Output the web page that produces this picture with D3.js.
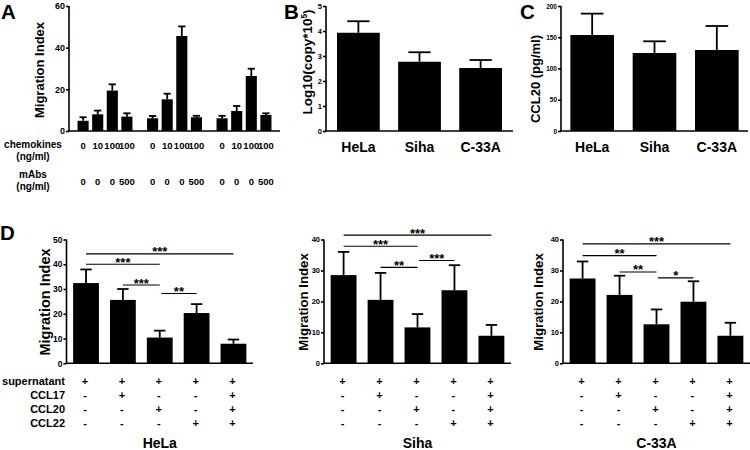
<!DOCTYPE html>
<html><head><meta charset="utf-8">
<script src="https://cdn.jsdelivr.net/npm/d3@7"></script>
<style>
body{margin:0;background:#fff;}
svg{display:block;font-family:"Liberation Sans",Arial,Helvetica,sans-serif;font-weight:bold;}
</style></head>
<body><svg id="c" width="750" height="450"></svg>
<script>
// ---------- DATA ----------
// Panel A
const aGroups = ["g1","g2","g3"];
const aBars = ["b1","b2","b3","b4"];
const aChemokines = ["0","10","100","100"];
const aMabs = ["0","0","0","500"];
const aValues = [[4.9,8.0,19.4,6.9],[6.1,15.2,45.6,6.6],[6.1,9.6,26.4,7.7]];
const aErrors = [[6.6,9.8,22.4,8.5],[7.2,17.9,50.2,7.3],[7.3,12.0,29.9,8.5]];
const aTicks = [0,20,40,60];
// Panel B
const cells = ["HeLa","Siha","C-33A"];
const bValues = [3.93,2.77,2.52];
const bErrors = [4.39,3.15,2.84];
const bTicks = [0,1,2,3,4,5];
// Panel C
const cValues = [153.6,124.8,129.6];
const cErrors = [187.8,143.5,168.0];
const cTicks = [0,50,100,150,200];
// Panel D
const dConditions = ["c1","c2","c3","c4","c5"];
const rowNames = ["supernatant","CCL17","CCL20","CCL22"];
const rowSigns = [["+","+","+","+","+"],["-","+","-","-","+"],["-","-","+","-","+"],["-","-","-","+","+"]];
const dHeLa = [32.4,25.6,10.4,20.3,7.9];
const dHeLaErr = [37.9,30.0,13.2,23.9,9.6];
const dSiha = [28.5,20.5,11.6,23.6,8.9];
const dSihaErr = [36.0,29.2,15.9,31.7,12.4];
const dC33A = [27.4,22.1,12.6,19.9,8.9];
const dC33AErr = [32.9,28.3,17.4,26.5,13.1];
const dHeLaTicks = [0,10,20,30,40,50];
const dSmallTicks = [0,10,20,30,40];
const sigHeLa = [[0,4,44.2,"***"],[0,2,40.0,"***"],[1,2,31.6,"***"],[2,3,28.2,"**"]];
const sigSiha = [[0,4,41.4,"***"],[0,2,37.8,"***"],[1,2,31.0,"**"],[2,3,33.2,"***"]];
const sigC33A = [[0,4,38.6,"***"],[0,2,34.8,"**"],[1,2,29.5,"**"],[2,3,27.6,"*"]];

// ---------- DRAW ----------
const svg = d3.select("#c");

function yAxis(g, y, ticks, x0, fs){
  const ax = g.append("g").attr("transform",`translate(${x0},0)`)
    .call(d3.axisLeft(y).tickValues(ticks).tickSize(3).tickPadding(1).tickFormat(d3.format("d")))
    .attr("font-family",null).attr("font-size",null);
  ax.selectAll("path,line").attr("stroke","#000").attr("stroke-width",1.6);
  ax.select(".domain").attr("d",`M0,${y.range()[0]}V${y.range()[1]}`);
  ax.selectAll("text").attr("font-size",fs).attr("font-weight","bold").attr("fill","#000");
}
function xBase(g, x0, x1, y0){
  g.append("line").attr("x1",x0-1).attr("x2",x1).attr("y1",y0).attr("y2",y0)
    .attr("stroke","#000").attr("stroke-width",1.6);
}
function bars(g, xs, y, vals, errs, capFrac){
  const w = xs.bandwidth();
  const d = vals.map((v,i)=>({x:xs.domain()[i], v, e:errs[i]}));
  g.selectAll(null).data(d).join("line")
    .attr("x1",o=>xs(o.x)+w/2).attr("x2",o=>xs(o.x)+w/2)
    .attr("y1",o=>y(o.v)).attr("y2",o=>y(o.e)).attr("stroke","#000").attr("stroke-width",1.8);
  g.selectAll(null).data(d).join("line")
    .attr("x1",o=>xs(o.x)+w/2-w*capFrac/2).attr("x2",o=>xs(o.x)+w/2+w*capFrac/2)
    .attr("y1",o=>y(o.e)).attr("y2",o=>y(o.e)).attr("stroke","#000").attr("stroke-width",1.8);
  g.selectAll(null).data(d).join("rect")
    .attr("x",o=>xs(o.x)).attr("width",w)
    .attr("y",o=>y(o.v)).attr("height",o=>y(0)-y(o.v)).attr("fill","#000");
}
function yTitle(x, y, txt, fs, sup){
  const t = svg.append("text").attr("transform",`translate(${x},${y}) rotate(-90)`)
    .attr("text-anchor","middle").attr("font-size",fs).text(txt);
  if(sup){
    t.append("tspan").attr("font-size",fs*0.62).attr("dy",-fs*0.38).text(sup[0]);
    t.append("tspan").attr("font-size",fs).attr("dy",fs*0.38).text(sup[1]);
  }
}
function letter(x,y,t){
  svg.append("text").attr("x",x).attr("y",y).attr("font-size",20.5).text(t);
}

// Panel A
{
  const g = svg.append("g");
  const y = d3.scaleLinear().domain([0,60]).range([131,6]);
  const xg = d3.scaleBand().domain(aGroups).range([69,280]).paddingInner(0.21).paddingOuter(0.123);
  const xb = d3.scaleBand().domain(aBars).range([0,xg.bandwidth()]).paddingInner(0.24).paddingOuter(0);
  aGroups.forEach((gr,gi)=>{
    const gg = g.append("g").attr("transform",`translate(${xg(gr)},0)`);
    bars(gg, xb, y, aValues[gi], aErrors[gi], 0.65);
    aBars.forEach((b,bi)=>{
      gg.append("text").attr("x",xb(b)+xb.bandwidth()/2).attr("y",148.5).attr("text-anchor","middle")
        .attr("font-size",9.5).text(aChemokines[bi]);
      gg.append("text").attr("x",xb(b)+xb.bandwidth()/2).attr("y",184.5).attr("text-anchor","middle")
        .attr("font-size",9.5).text(aMabs[bi]);
    });
  });
  xBase(g,69,280,131);
  yAxis(g,y,aTicks,69,9);
  yTitle(44,70,"Migration Index",13);
  letter(1,18.5,"A");
  [["chemokines",148],["(ng/ml)",160],["mAbs",178],["(ng/ml)",190]].forEach(([t,yy])=>
    svg.append("text").attr("x",33).attr("y",yy).attr("text-anchor","middle").attr("font-size",10).text(t));
}

// Panel B
{
  const g = svg.append("g");
  const y = d3.scaleLinear().domain([0,5]).range([131,6]);
  const x = d3.scaleBand().domain(cells).range([326,513]).paddingInner(0.3).paddingOuter(0.18);
  bars(g,x,y,bValues,bErrors,0.52);
  xBase(g,326,513,131);
  yAxis(g,y,bTicks,326,7.5);
  cells.forEach(c=>g.append("text").attr("x",x(c)+x.bandwidth()/2).attr("y",151.5).attr("text-anchor","middle").attr("font-size",14).text(c));
  yTitle(312,62,"Log10(copy*10",13.5,["5",")"]);
  letter(284,18.5,"B");
}

// Panel C
{
  const g = svg.append("g");
  const y = d3.scaleLinear().domain([0,200]).range([131,6]);
  const x = d3.scaleBand().domain(cells).range([561,748]).paddingInner(0.3).paddingOuter(0.15);
  bars(g,x,y,cValues,cErrors,0.52);
  xBase(g,561,748,131);
  yAxis(g,y,cTicks,561,6.5);
  cells.forEach(c=>g.append("text").attr("x",x(c)+x.bandwidth()/2).attr("y",151.5).attr("text-anchor","middle").attr("font-size",14).text(c));
  yTitle(540,79,"CCL20 (pg/ml)",13);
  letter(520,18.5,"C");
}

// Panel D
function panelD(x0, x1, ymax, ticks, vals, errs, sig, name, titleX, titleFs, tickFs){
  const g = svg.append("g");
  const y = d3.scaleLinear().domain([0,ymax]).range([363.3,239.5]);
  const x = d3.scaleBand().domain(dConditions).range([x0,x1]).paddingInner(0.3).paddingOuter(0.18);
  const cx = c=>x(c)+x.bandwidth()/2;
  bars(g,x,y,vals,errs,0.44);
  xBase(g,x0,x1,363.3);
  yAxis(g,y,ticks,x0,tickFs);
  sig.forEach(([i,j,v,s])=>{
    const xa = cx(dConditions[i]) + (i===2?1.5:0), xb2 = cx(dConditions[j]);
    g.append("line").attr("x1",xa).attr("x2",xb2).attr("y1",y(v)).attr("y2",y(v)).attr("stroke","#000").attr("stroke-width",1.1);
    g.append("text").attr("x",(xa+xb2)/2).attr("y",y(v)+2.5).attr("text-anchor","middle").attr("font-size",13).text(s);
  });
  rowSigns.forEach((row,ri)=>{
    row.forEach((s,ci)=>g.append("text").attr("x",cx(dConditions[ci])-1).attr("y",384.5+ri*14.2)
      .attr("text-anchor","middle").attr("font-size",11).text(s));
  });
  g.append("text").attr("x",cx(dConditions[2])).attr("y",448).attr("text-anchor","middle").attr("font-size",14).text(name);
  yTitle(titleX,302,"Migration Index",titleFs);
}
panelD(66.5,253,50,dHeLaTicks,dHeLa,dHeLaErr,sigHeLa,"HeLa",50,14.5,8.5);
panelD(324,511,40,dSmallTicks,dSiha,dSihaErr,sigSiha,"Siha",308,13.2,7.5);
panelD(563,750,40,dSmallTicks,dC33A,dC33AErr,sigC33A,"C-33A",543,13.2,7.5);
rowNames.forEach((n,ri)=>svg.append("text").attr("x",65).attr("y",384.5+ri*14.2).attr("text-anchor","end").attr("font-size",11).text(n));
letter(0,240,"D");
</script></body></html>
